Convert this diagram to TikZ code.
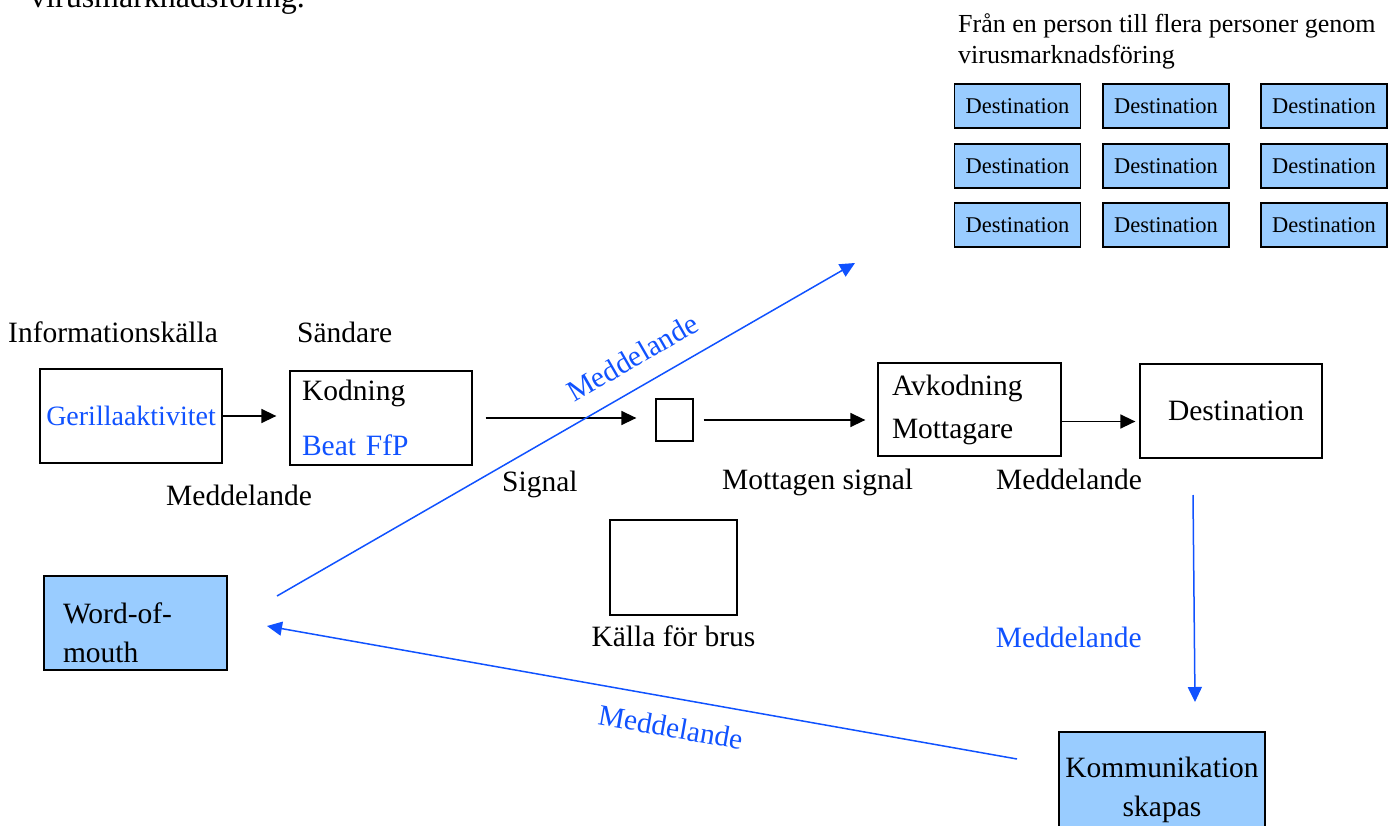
\documentclass[tikz,border=0pt]{standalone}
\usepackage{fontspec}
\setmainfont{Liberation Serif}
\usetikzlibrary{arrows.meta,positioning}
\definecolor{msgblue}{RGB}{16,82,255}
\definecolor{boxblue}{RGB}{153,204,255}
\newcommand\bigtxt{\fontsize{29.5}{36}\selectfont}
\newcommand\smalltxt{\fontsize{22.5}{27}\selectfont}
\begin{document}
\begin{tikzpicture}[x=1pt,y=-1pt,
    box/.style={draw, line width=1.3pt, inner sep=0pt, font=\bigtxt},
    bluebox/.style={box, fill=boxblue},
    destbox/.style={draw, line width=1.3pt, fill=boxblue, minimum width=126pt, minimum height=44pt, inner sep=0pt, font=\smalltxt},
    lbl/.style={anchor=base west, inner sep=0pt, font=\bigtxt},
    msglbl/.style={inner sep=0pt, font=\bigtxt, text=msgblue},
    tip/.style={-{Triangle[length=15pt,width=14pt]}},
    flow/.style={line width=1.5pt, tip},
    msg/.style={draw=msgblue, line width=1.5pt, tip},
    msgback/.style={draw=msgblue, line width=1.5pt, {Triangle[length=15pt,width=14pt]}-},
]
    \useasboundingbox (0,0) rectangle (1399,826);
    % Cut off text at the top
    \node[lbl, font=\fontsize{32}{36}\selectfont] (cut) at (30,8) {virusmarknadsföring.};
    % Many receivers
    \node[anchor=north west, inner sep=0pt, align=left, font=\fontsize{26}{31}\selectfont] (rubrik) at (958,13)
        {Från en person till flera personer genom\\virusmarknadsföring};
    \foreach \c/\x in {1/1017.5, 2/1166, 3/1324}
        \foreach \r/\y in {1/106, 2/166, 3/225}
            \node[destbox] (d\r\c) at (\x,\y) {Destination};
    % Shannon chain
    \node[lbl] (kalla) at (8,342) {Informationskälla};
    \node[lbl] (sandare) at (297,342) {Sändare};
    \node[box, minimum width=182pt, minimum height=94pt, text=msgblue, font=\fontsize{28}{34}\selectfont] (geril) at (131,416) {Gerillaaktivitet};
    \node[box, minimum width=182pt, minimum height=94pt, inner xsep=12pt, text width=158pt, align=left,
        font=\fontsize{29.5}{55}\selectfont] (kod) at (381,418) {Kodning\\\textcolor{msgblue}{Beat FfP}};
    \node[box, minimum width=37pt, minimum height=42pt] (sig) at (674.5,420) {};
    \node[box, minimum width=183pt, minimum height=93pt, inner xsep=14pt, text width=155pt, align=left,
        font=\fontsize{29.5}{43}\selectfont] (avk) at (969.5,409.5) {Avkodning\\Mottagare};
    \node[box, minimum width=182pt, minimum height=94pt] (dest) at (1231,411) {\hspace{10pt}Destination};
    \node[lbl] (medd1) at (166,505) {Meddelande};
    \node[lbl] (signal) at (502,491) {Signal};
    \node[lbl] (mottagen) at (722,489) {Mottagen signal};
    \node[lbl] (medd2) at (996,489) {Meddelande};
    \draw[flow, shorten >=13pt] (geril) -- (geril -| kod.west);
    \draw[flow, shorten <=13pt, shorten >=19pt] (kod.east) -- (kod.east -| sig.west);
    \draw[flow, shorten <=10pt, shorten >=12pt] (sig.east) -- (sig.east -| avk.west);
    \draw[flow, shorten >=4pt] ([yshift=-12pt]avk.east) -- ([yshift=-12pt]avk.east -| dest.west);
    % Noise
    \node[box, minimum width=127pt, minimum height=95pt] (brus) at (673.5,567.5) {};
    \node[inner sep=0pt, font=\bigtxt, below=10pt of brus] (bruslbl) {Källa för brus};
    % Word of mouth loop
    \node[bluebox, minimum width=183pt, minimum height=94pt, inner xsep=19pt, text width=145pt, align=left,
        font=\fontsize{29.5}{39}\selectfont] (wom) at (135.5,623) {\rule{0pt}{41pt}Word-of-\\mouth};
    \node[bluebox, minimum width=206pt, minimum height=116pt, inner xsep=2pt, align=center,
        font=\fontsize{29.5}{39}\selectfont] (komm) at (1162,790) {Kommunikation\\skapas};
    \coordinate (dn0) at (1193,495);
    \coordinate (dn1) at (1195,702);
    \coordinate (bk0) at (1017,759);
    \coordinate (bk1) at (267,626);
    \coordinate (up0) at (277,596);
    \coordinate (up1) at (855,263);
    \draw[msg] (dn0) -- node[msglbl, pos=.69, left=52pt] (medd3) {Meddelande} (dn1);
    \draw[msgback] (bk1) -- node[msglbl, pos=.545, sloped, below=18pt] (medd4) {Meddelande} (bk0);
    \draw[msg] (up0) -- node[msglbl, pos=.64, sloped, above=18pt] (medd5) {Meddelande} (up1);
\end{tikzpicture}
\end{document}
